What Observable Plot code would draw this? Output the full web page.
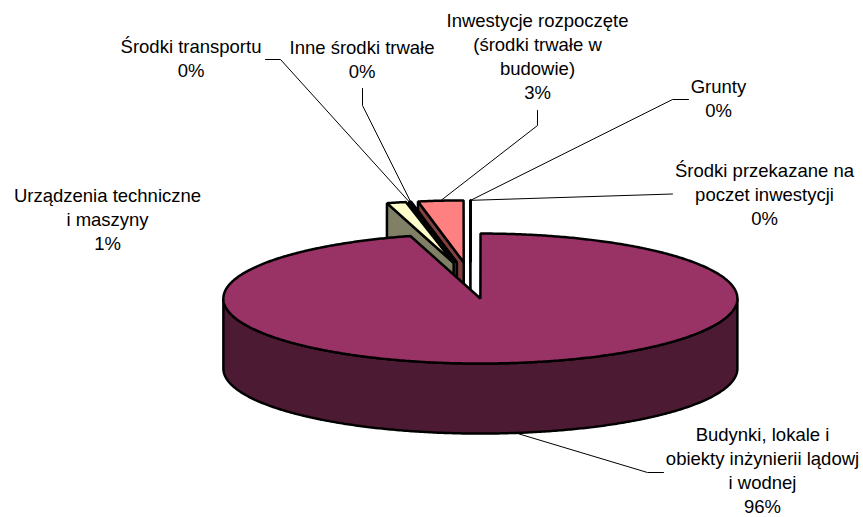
<!DOCTYPE html>
<html>
<head>
<meta charset="utf-8">
<script src="https://cdn.jsdelivr.net/npm/d3@7"></script>
<script src="https://cdn.jsdelivr.net/npm/@observablehq/plot@0.6"></script>
<style>
html,body{margin:0;padding:0;background:#fff;}
svg{display:block;}
</style>
</head>
<body>
<script>
// Data (clockwise from 12 o'clock)
const categories = ["Grunty","Budynki, lokale i\nobiekty inżynierii lądowj\ni wodnej","Urządzenia techniczne\ni maszyny","Środki transportu","Inne środki trwałe","Inwestycje rozpoczęte\n(środki trwałe w\nbudowie)","Środki przekazane na\npoczet inwestycji"];
const values = [0.01, 95.6, 1.26, 0.07, 0.07, 2.98, 0.01];
const colors = ["#9999FF","#993366","#FFFFCC","#CCFFFF","#660066","#FF8080","#0066CC"];
const labelX = [718, 762, 107, 190.5, 361.5, 537, 764];
const labelY = [97, 469, 217.5, 56.5, 57.5, 55, 193];
const leaderElbows = [[[672,99],[688,99]],[[647,472],[663,472]],[],[[280,59],[265,59]],[[362,105],[362,88]],[[537,125],[537,110]],[[672,193.5]]];

// Projection of the tilted pie
const W = 863, H = 517;
const cx = 470, cy = 280, rx = 257, ry = 65, depth = 70, explode = 72;
const farScale = 0.953; // slices pushed back look slightly smaller
const k = ry / rx, rad = Math.PI / 180;
const total = d3.sum(values);
let acc = 0;
const slices = values.map((v, i) => {
  const a0 = acc / total * 360; acc += v; const a1 = acc / total * 360;
  const mid = (a0 + a1) / 2 * rad;
  const c = {x: cx + explode * Math.sin(mid), y: cy - explode * k * Math.cos(mid)};
  return {i, a0, a1, mid, c, color: colors[i], scale: i === 1 ? 1 : farScale};
});
const rim = (s, deg, dz = 0) => ({x: s.c.x + s.scale * rx * Math.sin(deg * rad), y: s.c.y - s.scale * ry * Math.cos(deg * rad) + dz});
const arc = (s, from, to, dz = 0) => {
  const n = Math.max(2, Math.ceil(Math.abs(to - from) * 2));
  return d3.range(n + 1).map(j => rim(s, from + (to - from) * j / n, dz));
};
const shade = c => { const q = d3.rgb(c); return d3.rgb(q.r / 2, q.g / 2, q.b / 2).formatHex(); };
const outlined = (pts, fill) => Plot.line(pts, {x: "x", y: "y", curve: "linear-closed", fill, stroke: "#000", strokeWidth: 2.5, strokeLinejoin: "miter"});

const marks = [];
// far, thin slices first, moving towards the viewer
const smallOrder = [0, 6, 5, 4, 3, 2];
for (const i of smallOrder) {
  const s = slices[i];
  const start = rim(s, s.a0), sd = rim(s, s.a0, depth);
  if (s.a0 > 180) marks.push(outlined([start, s.c, {x: s.c.x, y: s.c.y + depth}, sd], shade(s.color)));
  marks.push(outlined([s.c, ...arc(s, s.a0, s.a1)], s.color));
}
// The large slice in front
const m = slices[1];
marks.push(outlined([...arc(m, 90, 270), ...arc(m, 270, 90, depth)], shade(m.color)));
marks.push(outlined([m.c, ...arc(m, m.a0, m.a1)], m.color));

// Leader lines: from the rim of each slice to the elbow near its label
const leaders = slices.flatMap(s => {
  const el = leaderElbows[s.i];
  if (!el.length) return [];
  const deg = (s.a0 + s.a1) / 2;
  const p = rim(s, deg, Math.cos(deg * rad) < 0 ? depth : 0);
  return [p, ...el.map(([x, y]) => ({x, y}))].map(d => ({...d, z: s.i}));
});
marks.push(Plot.line(leaders, {x: "x", y: "y", z: "z", stroke: "#000", strokeWidth: 1}));

// Labels
const labels = categories.map((name, i) => ({x: labelX[i], y: labelY[i], text: name + "\n" + Math.round(values[i] / total * 100) + "%"}));
marks.push(Plot.text(labels, {x: "x", y: "y", text: "text", fontSize: 18.5, lineHeight: 1.3, fontFamily: "'Liberation Sans', Arial, sans-serif", fill: "#000", textAnchor: "middle"}));

document.body.append(Plot.plot({
  width: W, height: H,
  marginTop: 0, marginRight: 0, marginBottom: 0, marginLeft: 0,
  x: {domain: [0, W], range: [0, W], axis: null},
  y: {domain: [0, H], range: [0, H], axis: null},
  style: {background: "#fff", overflow: "visible"},
  marks
}));
</script>
</body>
</html>
